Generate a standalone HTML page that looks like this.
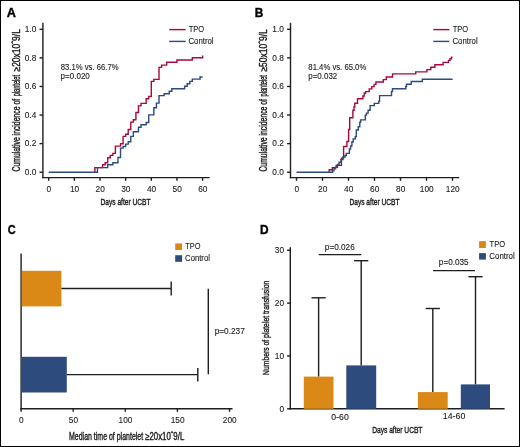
<!DOCTYPE html>
<html><head><meta charset="utf-8"><style>
html,body{margin:0;padding:0;background:#fff;}
svg{display:block;font-family:"Liberation Sans", sans-serif;will-change:transform;}
</style></head><body>
<svg width="520" height="447" viewBox="0 0 520 447">
<rect x="0" y="0" width="520" height="447" fill="#fff"/>
<line x1="42.90" y1="22.80" x2="42.90" y2="178.30" stroke="#1e1e1e" stroke-width="1.4"/>
<line x1="42.20" y1="177.60" x2="209.70" y2="177.60" stroke="#1e1e1e" stroke-width="1.4"/>
<line x1="39.50" y1="172.20" x2="42.90" y2="172.20" stroke="#1e1e1e" stroke-width="1.4"/>
<text x="36.30" y="174.90" font-size="8.3" text-anchor="end" fill="#1a1a1a" font-weight="normal" stroke="#1a1a1a" stroke-width="0.1">0.0</text>
<line x1="39.50" y1="143.62" x2="42.90" y2="143.62" stroke="#1e1e1e" stroke-width="1.4"/>
<text x="36.30" y="146.32" font-size="8.3" text-anchor="end" fill="#1a1a1a" font-weight="normal" stroke="#1a1a1a" stroke-width="0.1">0.2</text>
<line x1="39.50" y1="115.04" x2="42.90" y2="115.04" stroke="#1e1e1e" stroke-width="1.4"/>
<text x="36.30" y="117.74" font-size="8.3" text-anchor="end" fill="#1a1a1a" font-weight="normal" stroke="#1a1a1a" stroke-width="0.1">0.4</text>
<line x1="39.50" y1="86.46" x2="42.90" y2="86.46" stroke="#1e1e1e" stroke-width="1.4"/>
<text x="36.30" y="89.16" font-size="8.3" text-anchor="end" fill="#1a1a1a" font-weight="normal" stroke="#1a1a1a" stroke-width="0.1">0.6</text>
<line x1="39.50" y1="57.88" x2="42.90" y2="57.88" stroke="#1e1e1e" stroke-width="1.4"/>
<text x="36.30" y="60.58" font-size="8.3" text-anchor="end" fill="#1a1a1a" font-weight="normal" stroke="#1a1a1a" stroke-width="0.1">0.8</text>
<line x1="39.50" y1="29.30" x2="42.90" y2="29.30" stroke="#1e1e1e" stroke-width="1.4"/>
<text x="36.30" y="32.00" font-size="8.3" text-anchor="end" fill="#1a1a1a" font-weight="normal" stroke="#1a1a1a" stroke-width="0.1">1.0</text>
<line x1="48.70" y1="177.60" x2="48.70" y2="180.80" stroke="#1e1e1e" stroke-width="1.4"/>
<text x="48.90" y="191.70" font-size="8.3" text-anchor="middle" fill="#1a1a1a" font-weight="normal" stroke="#1a1a1a" stroke-width="0.1">0</text>
<line x1="74.35" y1="177.60" x2="74.35" y2="180.80" stroke="#1e1e1e" stroke-width="1.4"/>
<text x="74.55" y="191.70" font-size="8.3" text-anchor="middle" fill="#1a1a1a" font-weight="normal" stroke="#1a1a1a" stroke-width="0.1">10</text>
<line x1="100.00" y1="177.60" x2="100.00" y2="180.80" stroke="#1e1e1e" stroke-width="1.4"/>
<text x="100.20" y="191.70" font-size="8.3" text-anchor="middle" fill="#1a1a1a" font-weight="normal" stroke="#1a1a1a" stroke-width="0.1">20</text>
<line x1="125.65" y1="177.60" x2="125.65" y2="180.80" stroke="#1e1e1e" stroke-width="1.4"/>
<text x="125.85" y="191.70" font-size="8.3" text-anchor="middle" fill="#1a1a1a" font-weight="normal" stroke="#1a1a1a" stroke-width="0.1">30</text>
<line x1="151.30" y1="177.60" x2="151.30" y2="180.80" stroke="#1e1e1e" stroke-width="1.4"/>
<text x="151.50" y="191.70" font-size="8.3" text-anchor="middle" fill="#1a1a1a" font-weight="normal" stroke="#1a1a1a" stroke-width="0.1">40</text>
<line x1="176.95" y1="177.60" x2="176.95" y2="180.80" stroke="#1e1e1e" stroke-width="1.4"/>
<text x="177.15" y="191.70" font-size="8.3" text-anchor="middle" fill="#1a1a1a" font-weight="normal" stroke="#1a1a1a" stroke-width="0.1">50</text>
<line x1="202.60" y1="177.60" x2="202.60" y2="180.80" stroke="#1e1e1e" stroke-width="1.4"/>
<text x="202.80" y="191.70" font-size="8.3" text-anchor="middle" fill="#1a1a1a" font-weight="normal" stroke="#1a1a1a" stroke-width="0.1">60</text>
<text transform="translate(19.5,171.3) rotate(-90)" x="-0.2" y="0" font-size="10" fill="#1a1a1a" stroke="#1a1a1a" stroke-width="0.38" textLength="72.6" lengthAdjust="spacingAndGlyphs">Cumulative incidence of</text>
<text transform="translate(19.5,171.3) rotate(-90)" x="75.0" y="0" font-size="10" fill="#1a1a1a" stroke="#1a1a1a" stroke-width="0.38" textLength="21.3" lengthAdjust="spacingAndGlyphs">plantelet</text>
<text transform="translate(19.5,171.3) rotate(-90)" x="99.8" y="0" font-size="10" fill="#1a1a1a" stroke="#1a1a1a" stroke-width="0.38" textLength="42.4" lengthAdjust="spacingAndGlyphs">≥20x10ˆ9/L</text>
<text x="100.46" y="205.00" font-size="9.4" text-anchor="start" fill="#1a1a1a" font-weight="normal" textLength="50.10" lengthAdjust="spacingAndGlyphs" stroke="#1a1a1a" stroke-width="0.38">Days after UCBT</text>
<path d="M94.87,172.20 H94.87 V167.60 H102.56 V164.80 H105.13 V162.80 H107.69 V157.80 H110.26 V155.40 H112.83 V153.40 H115.39 V146.10 H120.52 V143.80 H123.09 V136.40 H125.65 V134.30 H128.22 V129.50 H130.78 V122.10 H133.34 V119.80 H135.91 V112.50 H138.47 V105.90 H141.04 V103.40 H146.17 V98.70 H148.74 V96.40 H151.30 V81.40 H153.87 V79.40 H159.00 V67.40 H161.56 V65.10 H166.69 V62.20 H176.95 V60.00 H192.34 V57.70 H202.60 V55.40 H202.60" fill="none" stroke="#a80838" stroke-width="1.4"/>
<path d="M48.70,172.20 H97.44 V167.60 H107.69 V164.80 H112.83 V162.80 H117.95 V157.50 H120.52 V148.10 H123.09 V146.50 H125.65 V144.10 H128.22 V141.80 H130.78 V136.40 H133.34 V131.80 H138.47 V127.20 H141.04 V124.80 H146.17 V122.50 H148.74 V114.90 H153.87 V107.80 H156.43 V103.10 H159.00 V95.60 H164.12 V93.70 H169.25 V91.30 H171.82 V88.70 H184.64 V86.20 H187.21 V83.80 H189.77 V81.40 H192.34 V79.10 H200.04 V77.00 H202.60" fill="none" stroke="#2a4a80" stroke-width="1.4"/>
<line x1="169.20" y1="29.60" x2="185.60" y2="29.60" stroke="#a80838" stroke-width="1.4"/>
<line x1="169.20" y1="41.40" x2="185.60" y2="41.40" stroke="#2a4a80" stroke-width="1.4"/>
<text x="188.63" y="32.00" font-size="8.2" text-anchor="start" fill="#1a1a1a" font-weight="normal" textLength="15.53" lengthAdjust="spacingAndGlyphs" stroke="#1a1a1a" stroke-width="0.1">TPO</text>
<text x="188.40" y="43.80" font-size="8.2" text-anchor="start" fill="#1a1a1a" font-weight="normal" textLength="25.22" lengthAdjust="spacingAndGlyphs" stroke="#1a1a1a" stroke-width="0.1">Control</text>
<text x="60.77" y="69.70" font-size="8.2" text-anchor="start" fill="#1a1a1a" font-weight="normal" textLength="57.81" lengthAdjust="spacingAndGlyphs" stroke="#1a1a1a" stroke-width="0.1">83.1% vs. 66.7%</text>
<text x="60.58" y="79.00" font-size="8.2" text-anchor="start" fill="#1a1a1a" font-weight="normal" textLength="29.23" lengthAdjust="spacingAndGlyphs" stroke="#1a1a1a" stroke-width="0.1">p=0.020</text>
<line x1="290.50" y1="22.80" x2="290.50" y2="178.30" stroke="#1e1e1e" stroke-width="1.4"/>
<line x1="289.80" y1="177.60" x2="459.20" y2="177.60" stroke="#1e1e1e" stroke-width="1.4"/>
<line x1="287.10" y1="172.20" x2="290.50" y2="172.20" stroke="#1e1e1e" stroke-width="1.4"/>
<text x="283.90" y="174.90" font-size="8.3" text-anchor="end" fill="#1a1a1a" font-weight="normal" stroke="#1a1a1a" stroke-width="0.1">0.0</text>
<line x1="287.10" y1="143.62" x2="290.50" y2="143.62" stroke="#1e1e1e" stroke-width="1.4"/>
<text x="283.90" y="146.32" font-size="8.3" text-anchor="end" fill="#1a1a1a" font-weight="normal" stroke="#1a1a1a" stroke-width="0.1">0.2</text>
<line x1="287.10" y1="115.04" x2="290.50" y2="115.04" stroke="#1e1e1e" stroke-width="1.4"/>
<text x="283.90" y="117.74" font-size="8.3" text-anchor="end" fill="#1a1a1a" font-weight="normal" stroke="#1a1a1a" stroke-width="0.1">0.4</text>
<line x1="287.10" y1="86.46" x2="290.50" y2="86.46" stroke="#1e1e1e" stroke-width="1.4"/>
<text x="283.90" y="89.16" font-size="8.3" text-anchor="end" fill="#1a1a1a" font-weight="normal" stroke="#1a1a1a" stroke-width="0.1">0.6</text>
<line x1="287.10" y1="57.88" x2="290.50" y2="57.88" stroke="#1e1e1e" stroke-width="1.4"/>
<text x="283.90" y="60.58" font-size="8.3" text-anchor="end" fill="#1a1a1a" font-weight="normal" stroke="#1a1a1a" stroke-width="0.1">0.8</text>
<line x1="287.10" y1="29.30" x2="290.50" y2="29.30" stroke="#1e1e1e" stroke-width="1.4"/>
<text x="283.90" y="32.00" font-size="8.3" text-anchor="end" fill="#1a1a1a" font-weight="normal" stroke="#1a1a1a" stroke-width="0.1">1.0</text>
<line x1="296.50" y1="177.60" x2="296.50" y2="180.80" stroke="#1e1e1e" stroke-width="1.4"/>
<text x="296.70" y="191.70" font-size="8.3" text-anchor="middle" fill="#1a1a1a" font-weight="normal" stroke="#1a1a1a" stroke-width="0.1">0</text>
<line x1="322.50" y1="177.60" x2="322.50" y2="180.80" stroke="#1e1e1e" stroke-width="1.4"/>
<text x="322.70" y="191.70" font-size="8.3" text-anchor="middle" fill="#1a1a1a" font-weight="normal" stroke="#1a1a1a" stroke-width="0.1">20</text>
<line x1="348.50" y1="177.60" x2="348.50" y2="180.80" stroke="#1e1e1e" stroke-width="1.4"/>
<text x="348.70" y="191.70" font-size="8.3" text-anchor="middle" fill="#1a1a1a" font-weight="normal" stroke="#1a1a1a" stroke-width="0.1">40</text>
<line x1="374.50" y1="177.60" x2="374.50" y2="180.80" stroke="#1e1e1e" stroke-width="1.4"/>
<text x="374.70" y="191.70" font-size="8.3" text-anchor="middle" fill="#1a1a1a" font-weight="normal" stroke="#1a1a1a" stroke-width="0.1">60</text>
<line x1="400.50" y1="177.60" x2="400.50" y2="180.80" stroke="#1e1e1e" stroke-width="1.4"/>
<text x="400.70" y="191.70" font-size="8.3" text-anchor="middle" fill="#1a1a1a" font-weight="normal" stroke="#1a1a1a" stroke-width="0.1">80</text>
<line x1="426.50" y1="177.60" x2="426.50" y2="180.80" stroke="#1e1e1e" stroke-width="1.4"/>
<text x="426.70" y="191.70" font-size="8.3" text-anchor="middle" fill="#1a1a1a" font-weight="normal" stroke="#1a1a1a" stroke-width="0.1">100</text>
<line x1="452.50" y1="177.60" x2="452.50" y2="180.80" stroke="#1e1e1e" stroke-width="1.4"/>
<text x="452.70" y="191.70" font-size="8.3" text-anchor="middle" fill="#1a1a1a" font-weight="normal" stroke="#1a1a1a" stroke-width="0.1">120</text>
<text transform="translate(267.0,171.4) rotate(-90)" x="-0.2" y="0" font-size="10" fill="#1a1a1a" stroke="#1a1a1a" stroke-width="0.38" textLength="72.6" lengthAdjust="spacingAndGlyphs">Cumulative incidence of</text>
<text transform="translate(267.0,171.4) rotate(-90)" x="75.0" y="0" font-size="10" fill="#1a1a1a" stroke="#1a1a1a" stroke-width="0.38" textLength="21.3" lengthAdjust="spacingAndGlyphs">plantelet</text>
<text transform="translate(267.0,171.4) rotate(-90)" x="99.8" y="0" font-size="10" fill="#1a1a1a" stroke="#1a1a1a" stroke-width="0.38" textLength="42.4" lengthAdjust="spacingAndGlyphs">≥50x10ˆ9/L</text>
<text x="349.46" y="205.00" font-size="9.4" text-anchor="start" fill="#1a1a1a" font-weight="normal" textLength="49.99" lengthAdjust="spacingAndGlyphs" stroke="#1a1a1a" stroke-width="0.38">Days after UCBT</text>
<path d="M329.20,172.20 H329.20 V169.80 H332.30 V167.60 H336.20 V165.40 H341.40 V158.10 H343.60 V146.50 H346.90 V141.50 H348.60 V129.50 H349.70 V117.80 H352.90 V110.30 H354.00 V106.80 H354.80 V103.20 H357.50 V98.70 H362.90 V96.00 H364.20 V93.30 H365.60 V91.60 H369.20 V88.90 H371.80 V86.60 H374.10 V84.40 H375.90 V82.00 H383.30 V79.60 H386.30 V77.00 H392.50 V73.90 H415.70 V71.90 H426.90 V69.60 H430.80 V67.30 H434.90 V64.70 H443.10 V62.40 H448.50 V60.40 H450.00 V58.80 H451.50 V57.30 H452.50" fill="none" stroke="#a80838" stroke-width="1.4"/>
<path d="M296.50,172.20 H332.50 V170.70 H334.00 V168.80 H335.50 V167.30 H337.50 V164.50 H339.00 V162.30 H341.00 V159.50 H343.00 V157.00 H345.00 V155.50 H346.30 V153.40 H349.40 V149.00 H350.60 V146.00 H351.90 V142.00 H353.20 V138.90 H355.30 V136.60 H356.30 V130.00 H358.30 V126.80 H359.80 V122.30 H360.60 V119.90 H365.30 V115.10 H366.50 V113.10 H368.10 V110.30 H370.10 V105.60 H374.30 V103.40 H378.80 V101.10 H379.60 V95.60 H391.50 V91.50 H392.50 V88.80 H405.80 V86.50 H406.50 V84.20 H411.20 V81.50 H422.30 V79.20 H452.60" fill="none" stroke="#2a4a80" stroke-width="1.4"/>
<line x1="433.30" y1="29.60" x2="449.40" y2="29.60" stroke="#a80838" stroke-width="1.4"/>
<line x1="433.30" y1="41.40" x2="449.40" y2="41.40" stroke="#2a4a80" stroke-width="1.4"/>
<text x="452.73" y="32.00" font-size="8.2" text-anchor="start" fill="#1a1a1a" font-weight="normal" textLength="15.53" lengthAdjust="spacingAndGlyphs" stroke="#1a1a1a" stroke-width="0.1">TPO</text>
<text x="452.50" y="43.80" font-size="8.2" text-anchor="start" fill="#1a1a1a" font-weight="normal" textLength="25.12" lengthAdjust="spacingAndGlyphs" stroke="#1a1a1a" stroke-width="0.1">Control</text>
<text x="308.36" y="69.70" font-size="8.2" text-anchor="start" fill="#1a1a1a" font-weight="normal" textLength="57.91" lengthAdjust="spacingAndGlyphs" stroke="#1a1a1a" stroke-width="0.1">81.4% vs. 65.0%</text>
<text x="308.29" y="79.00" font-size="8.2" text-anchor="start" fill="#1a1a1a" font-weight="normal" textLength="29.01" lengthAdjust="spacingAndGlyphs" stroke="#1a1a1a" stroke-width="0.1">p=0.032</text>
<line x1="21.10" y1="253.40" x2="21.10" y2="409.40" stroke="#1e1e1e" stroke-width="1.4"/>
<line x1="20.40" y1="408.70" x2="232.50" y2="408.70" stroke="#1e1e1e" stroke-width="1.4"/>
<line x1="21.10" y1="408.70" x2="21.10" y2="411.80" stroke="#1e1e1e" stroke-width="1.4"/>
<text x="21.30" y="422.70" font-size="8.3" text-anchor="middle" fill="#1a1a1a" font-weight="normal" stroke="#1a1a1a" stroke-width="0.1">0</text>
<line x1="73.20" y1="408.70" x2="73.20" y2="411.80" stroke="#1e1e1e" stroke-width="1.4"/>
<text x="73.40" y="422.70" font-size="8.3" text-anchor="middle" fill="#1a1a1a" font-weight="normal" stroke="#1a1a1a" stroke-width="0.1">50</text>
<line x1="125.30" y1="408.70" x2="125.30" y2="411.80" stroke="#1e1e1e" stroke-width="1.4"/>
<text x="125.50" y="422.70" font-size="8.3" text-anchor="middle" fill="#1a1a1a" font-weight="normal" stroke="#1a1a1a" stroke-width="0.1">100</text>
<line x1="177.40" y1="408.70" x2="177.40" y2="411.80" stroke="#1e1e1e" stroke-width="1.4"/>
<text x="177.60" y="422.70" font-size="8.3" text-anchor="middle" fill="#1a1a1a" font-weight="normal" stroke="#1a1a1a" stroke-width="0.1">150</text>
<line x1="229.50" y1="408.70" x2="229.50" y2="411.80" stroke="#1e1e1e" stroke-width="1.4"/>
<text x="229.70" y="422.70" font-size="8.3" text-anchor="middle" fill="#1a1a1a" font-weight="normal" stroke="#1a1a1a" stroke-width="0.1">200</text>
<text x="69.03" y="439.60" font-size="10.2" text-anchor="start" fill="#1a1a1a" font-weight="normal" textLength="74.12" lengthAdjust="spacingAndGlyphs" stroke="#1a1a1a" stroke-width="0.38">Median time of plantelet</text>
<text x="145.15" y="439.60" font-size="10.2" text-anchor="start" fill="#1a1a1a" font-weight="normal" textLength="39.11" lengthAdjust="spacingAndGlyphs" stroke="#1a1a1a" stroke-width="0.38">≥20x10ˆ9/L</text>
<rect x="21.80" y="270.80" width="39.60" height="35.60" fill="#db8916"/>
<rect x="21.80" y="356.80" width="45.00" height="35.70" fill="#2e4b7d"/>
<line x1="61.40" y1="288.50" x2="171.20" y2="288.50" stroke="#1e1e1e" stroke-width="1.4"/>
<line x1="171.20" y1="281.50" x2="171.20" y2="295.60" stroke="#1e1e1e" stroke-width="1.4"/>
<line x1="66.80" y1="374.60" x2="197.80" y2="374.60" stroke="#1e1e1e" stroke-width="1.4"/>
<line x1="197.80" y1="367.90" x2="197.80" y2="381.40" stroke="#1e1e1e" stroke-width="1.4"/>
<line x1="208.30" y1="288.70" x2="208.30" y2="374.20" stroke="#1e1e1e" stroke-width="1.4"/>
<text x="214.67" y="334.40" font-size="8.2" text-anchor="start" fill="#1a1a1a" font-weight="normal" textLength="30.15" lengthAdjust="spacingAndGlyphs" stroke="#1a1a1a" stroke-width="0.1">p=0.237</text>
<rect x="175.20" y="243.40" width="6.90" height="6.60" fill="#db8916"/>
<rect x="175.20" y="255.20" width="6.90" height="6.60" fill="#2e4b7d"/>
<text x="185.33" y="249.30" font-size="8.2" text-anchor="start" fill="#1a1a1a" font-weight="normal" textLength="15.22" lengthAdjust="spacingAndGlyphs" stroke="#1a1a1a" stroke-width="0.1">TPO</text>
<text x="185.11" y="261.10" font-size="8.2" text-anchor="start" fill="#1a1a1a" font-weight="normal" textLength="24.81" lengthAdjust="spacingAndGlyphs" stroke="#1a1a1a" stroke-width="0.1">Control</text>
<line x1="290.30" y1="247.30" x2="290.30" y2="409.50" stroke="#1e1e1e" stroke-width="1.4"/>
<line x1="289.60" y1="408.80" x2="504.60" y2="408.80" stroke="#1e1e1e" stroke-width="1.4"/>
<line x1="287.10" y1="408.80" x2="290.30" y2="408.80" stroke="#1e1e1e" stroke-width="1.4"/>
<text x="284.00" y="411.60" font-size="8.3" text-anchor="end" fill="#1a1a1a" font-weight="normal" stroke="#1a1a1a" stroke-width="0.1">0</text>
<line x1="287.10" y1="355.95" x2="290.30" y2="355.95" stroke="#1e1e1e" stroke-width="1.4"/>
<text x="284.00" y="358.75" font-size="8.3" text-anchor="end" fill="#1a1a1a" font-weight="normal" stroke="#1a1a1a" stroke-width="0.1">10</text>
<line x1="287.10" y1="303.10" x2="290.30" y2="303.10" stroke="#1e1e1e" stroke-width="1.4"/>
<text x="284.00" y="305.90" font-size="8.3" text-anchor="end" fill="#1a1a1a" font-weight="normal" stroke="#1a1a1a" stroke-width="0.1">20</text>
<line x1="287.10" y1="250.25" x2="290.30" y2="250.25" stroke="#1e1e1e" stroke-width="1.4"/>
<text x="284.00" y="253.05" font-size="8.3" text-anchor="end" fill="#1a1a1a" font-weight="normal" stroke="#1a1a1a" stroke-width="0.1">30</text>
<line x1="318.60" y1="376.60" x2="318.60" y2="297.80" stroke="#1e1e1e" stroke-width="1.4"/>
<line x1="311.50" y1="297.80" x2="325.70" y2="297.80" stroke="#1e1e1e" stroke-width="1.4"/>
<rect x="303.80" y="376.60" width="29.70" height="32.20" fill="#db8916"/>
<line x1="361.20" y1="365.40" x2="361.20" y2="260.70" stroke="#1e1e1e" stroke-width="1.4"/>
<line x1="354.10" y1="260.70" x2="368.30" y2="260.70" stroke="#1e1e1e" stroke-width="1.4"/>
<rect x="346.30" y="365.40" width="29.90" height="43.40" fill="#2e4b7d"/>
<line x1="432.80" y1="392.10" x2="432.80" y2="308.50" stroke="#1e1e1e" stroke-width="1.4"/>
<line x1="425.70" y1="308.50" x2="439.90" y2="308.50" stroke="#1e1e1e" stroke-width="1.4"/>
<rect x="417.90" y="392.10" width="29.80" height="16.70" fill="#db8916"/>
<line x1="475.50" y1="384.40" x2="475.50" y2="276.70" stroke="#1e1e1e" stroke-width="1.4"/>
<line x1="468.40" y1="276.70" x2="482.60" y2="276.70" stroke="#1e1e1e" stroke-width="1.4"/>
<rect x="460.80" y="384.40" width="29.20" height="24.40" fill="#2e4b7d"/>
<line x1="318.70" y1="254.60" x2="361.20" y2="254.60" stroke="#1e1e1e" stroke-width="1.4"/>
<line x1="433.10" y1="270.60" x2="475.00" y2="270.60" stroke="#1e1e1e" stroke-width="1.4"/>
<text x="324.87" y="249.60" font-size="8.2" text-anchor="start" fill="#1a1a1a" font-weight="normal" textLength="29.89" lengthAdjust="spacingAndGlyphs" stroke="#1a1a1a" stroke-width="0.1">p=0.026</text>
<text x="438.87" y="265.40" font-size="8.2" text-anchor="start" fill="#1a1a1a" font-weight="normal" textLength="29.77" lengthAdjust="spacingAndGlyphs" stroke="#1a1a1a" stroke-width="0.1">p=0.035</text>
<text x="331.36" y="419.50" font-size="8.2" text-anchor="start" fill="#1a1a1a" font-weight="normal" textLength="17.48" lengthAdjust="spacingAndGlyphs" stroke="#1a1a1a" stroke-width="0.1">0-60</text>
<text x="442.83" y="419.30" font-size="8.2" text-anchor="start" fill="#1a1a1a" font-weight="normal" textLength="22.51" lengthAdjust="spacingAndGlyphs" stroke="#1a1a1a" stroke-width="0.1">14-60</text>
<text x="372.15" y="433.10" font-size="9.8" text-anchor="start" fill="#1a1a1a" font-weight="normal" textLength="50.30" lengthAdjust="spacingAndGlyphs" stroke="#1a1a1a" stroke-width="0.38">Days after UCBT</text>
<text transform="translate(268.6,375.0) rotate(-90)" x="0" y="0" font-size="9.8" fill="#1a1a1a" stroke="#1a1a1a" stroke-width="0.38" textLength="94.3" lengthAdjust="spacingAndGlyphs">Numbers of platelet transfusion</text>
<rect x="479.10" y="241.10" width="6.80" height="6.90" fill="#db8916"/>
<rect x="479.10" y="253.10" width="6.80" height="6.50" fill="#2e4b7d"/>
<text x="489.53" y="247.00" font-size="8.2" text-anchor="start" fill="#1a1a1a" font-weight="normal" textLength="15.53" lengthAdjust="spacingAndGlyphs" stroke="#1a1a1a" stroke-width="0.1">TPO</text>
<text x="489.30" y="258.70" font-size="8.2" text-anchor="start" fill="#1a1a1a" font-weight="normal" textLength="25.43" lengthAdjust="spacingAndGlyphs" stroke="#1a1a1a" stroke-width="0.1">Control</text>
<text x="6.88" y="16.50" font-size="12" text-anchor="start" fill="#000" font-weight="bold" textLength="9.15" lengthAdjust="spacingAndGlyphs" stroke="#000" stroke-width="0.35">A</text>
<text x="254.81" y="16.80" font-size="12" text-anchor="start" fill="#000" font-weight="bold" textLength="8.53" lengthAdjust="spacingAndGlyphs" stroke="#000" stroke-width="0.35">B</text>
<text x="7.65" y="234.10" font-size="12" text-anchor="start" fill="#000" font-weight="bold" textLength="7.95" lengthAdjust="spacingAndGlyphs" stroke="#000" stroke-width="0.35">C</text>
<text x="260.10" y="233.80" font-size="12" text-anchor="start" fill="#000" font-weight="bold" textLength="8.60" lengthAdjust="spacingAndGlyphs" stroke="#000" stroke-width="0.35">D</text>
<rect x="0.5" y="0.5" width="519" height="446" fill="none" stroke="#000" stroke-width="1"/>
</svg>
</body></html>
